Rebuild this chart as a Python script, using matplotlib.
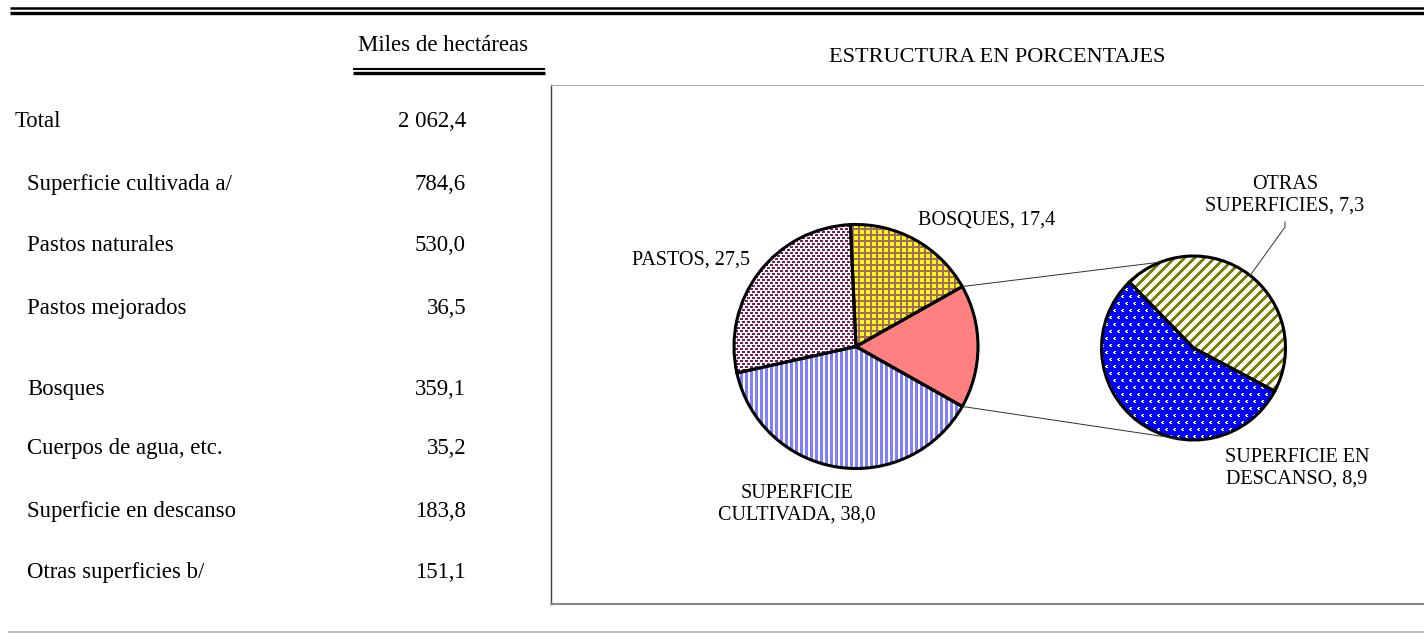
import numpy as np
import matplotlib
matplotlib.use("Agg")
import matplotlib.pyplot as plt
from matplotlib.colors import to_rgba

# ---------------- data ----------------
row_labels = ["Total", "Superficie cultivada a/", "Pastos naturales", "Pastos mejorados",
              "Bosques", "Cuerpos de agua, etc.", "Superficie en descanso", "Otras superficies b/"]
row_values = [2062.4, 784.6, 530.0, 36.5, 359.1, 35.2, 183.8, 151.1]

main_labels = ["SUPERFICIE\nCULTIVADA, 38,0", "", "BOSQUES, 17,4", "PASTOS, 27,5"]
sub_labels = ["OTRAS\nSUPERFICIES, 7,3", "SUPERFICIE EN\nDESCANSO, 8,9"]
sub_values = [7.3, 8.9]                      # otras superficies, superficie en descanso
main_values = [38.0, sum(sub_values), 17.4, 27.5]   # cultivada, (descanso+otras), bosques, pastos

W, H = 1424, 633
FONT = "Liberation Serif"


def Y(y):
    return H - y


def fmt(v):
    return f"{v:,.1f}".replace(",", " ").replace(".", ",")


fig = plt.figure(figsize=(W / 100, H / 100), dpi=100)
ax = fig.add_axes([0, 0, 1, 1])
ax.set_axis_off()

# ---------------- rules ----------------
ax.plot([10, W], [Y(8), Y(8)], color="black", lw=1.8, solid_capstyle="butt")
ax.plot([10, W], [Y(13.4), Y(13.4)], color="black", lw=2.4, solid_capstyle="butt")
ax.plot([353, 545], [Y(68.7), Y(68.7)], color="black", lw=1.5, solid_capstyle="butt")
ax.plot([353, 545], [Y(73), Y(73)], color="black", lw=2.4, solid_capstyle="butt")
ax.plot([8, W], [Y(632), Y(632)], color="#bdbdbd", lw=1.4, solid_capstyle="butt")

# frame of the chart area
ax.plot([551, 551], [Y(85), Y(604)], color="#404040", lw=1.0)
ax.plot([551, W], [Y(85), Y(85)], color="#b0b0b0", lw=0.8)
ax.plot([551, W], [Y(604), Y(604)], color="#8a8a8a", lw=1.5)

# ---------------- table text ----------------
ax.text(443, Y(51), "Miles de hectáreas", fontsize=16.4, family=FONT, ha="center", va="baseline")
baselines = [127, 190, 251, 314, 395, 454, 517, 578]
for i, (lab, val, yb) in enumerate(zip(row_labels, row_values, baselines)):
    ax.text(15 if i == 0 else 27, Y(yb), lab, fontsize=16.4, family=FONT, ha="left", va="baseline")
    ax.text(466, Y(yb), fmt(val), fontsize=16.4, family=FONT, ha="right", va="baseline")

ax.text(997, Y(62), "ESTRUCTURA EN PORCENTAJES", fontsize=16, family=FONT, ha="center", va="baseline")


# ---------------- fill textures (pixel patterns) ----------------
def texture(kind, rows, cols):
    r, c = np.meshgrid(rows, cols, indexing="ij")
    if kind == "vstripes":
        return (c % 5) < 3
    if kind == "grid":
        return ((r % 6) < 2) | ((c % 6) < 2)
    if kind == "dots":
        shift = 3 * ((r // 3) % 2)
        return ((r % 3) < 2) & (((c + shift) % 5) < 3)
    if kind == "diag":
        return ((c + r) % 10) < 4
    if kind == "chevron":
        shift = 4 * ((r // 7) % 2)
        cc = (c + shift) % 8
        rr = r % 7
        return (((rr == 1) | (rr == 3)) & ((cc == 2) | (cc == 3))) | ((rr == 2) & ((cc == 1) | (cc == 2)))
    return np.zeros_like(r, dtype=bool)


def styled_pie(vals, center_px, radius, start, bases, kinds, inks):
    center = (center_px[0], Y(center_px[1]))
    wedges, _ = ax.pie(vals, colors=bases, startangle=start, counterclock=True,
                       center=center, radius=radius, frame=True,
                       wedgeprops=dict(linewidth=0))
    x0 = int(np.floor(center_px[0] - radius)) - 2
    y0 = int(np.floor(center_px[1] - radius)) - 2
    n = int(np.ceil(2 * radius)) + 5
    rows = np.arange(y0, y0 + n)
    cols = np.arange(x0, x0 + n)
    for w, base, kind, ink in zip(wedges, bases, kinds, inks):
        if kind is None:
            continue
        mask = texture(kind, rows, cols)
        img = np.empty((n, n, 4))
        img[:] = to_rgba(base)
        img[mask] = to_rgba(ink)
        im = ax.imshow(img, extent=(x0, x0 + n, Y(y0 + n), Y(y0)), origin="upper",
                       interpolation="nearest", zorder=2)
        im.set_clip_path(w)
    outl, _ = ax.pie(vals, startangle=start, counterclock=True, center=center,
                     radius=radius, frame=True,
                     wedgeprops=dict(fill=False, edgecolor="black", linewidth=2.2, zorder=3))
    return wedges


main_cpx = (856, 346.5)
main_c = (main_cpx[0], Y(main_cpx[1]))
main_r = 122
red_span = main_values[1] / sum(main_values) * 360
cult_span = main_values[0] / sum(main_values) * 360
main_start = -red_span / 2 - cult_span

mw = styled_pie(main_values, main_cpx, main_r, main_start,
                ["white", "#ff8080", "#ffff00", "white"],
                ["vstripes", None, "grid", "dots"],
                ["#8080ff", None, "#a46a6a", "#7a1c56"])

sub_cpx = (1193.5, 348)
sub_c = (sub_cpx[0], Y(sub_cpx[1]))
sub_r = 92
sw = styled_pie(sub_values, sub_cpx, sub_r, -28,
                ["white", "#0000ff"],
                ["diag", "chevron"],
                ["#808000", "#ffffff"])

# connector lines from the red wedge to the small pie
red = mw[1]
a1, a2 = np.deg2rad(red.theta2), np.deg2rad(red.theta1)
p1 = (main_c[0] + main_r * np.cos(a1), main_c[1] + main_r * np.sin(a1))
p2 = (main_c[0] + main_r * np.cos(a2), main_c[1] + main_r * np.sin(a2))
b1, b2 = np.deg2rad(111), np.deg2rad(-98)
q1 = (sub_c[0] + sub_r * np.cos(b1), sub_c[1] + sub_r * np.sin(b1))
q2 = (sub_c[0] + sub_r * np.cos(b2), sub_c[1] + sub_r * np.sin(b2))
ax.plot([p1[0], q1[0]], [p1[1], q1[1]], color="#303030", lw=0.7, zorder=4)
ax.plot([p2[0], q2[0]], [p2[1], q2[1]], color="#303030", lw=0.7, zorder=4)

# leader for OTRAS
b3 = np.deg2rad(52)
q3 = (sub_c[0] + sub_r * np.cos(b3), sub_c[1] + sub_r * np.sin(b3))
ax.plot([q3[0], 1285, 1285], [q3[1], Y(227), Y(222)], color="#303030", lw=0.7, zorder=4)

# pie labels
LS = 1.2
FS = 14.5
ax.text(918, Y(225), main_labels[2], fontsize=FS, family=FONT, ha="left", va="baseline")
ax.text(632, Y(265), main_labels[3], fontsize=FS, family=FONT, ha="left", va="baseline")
ax.text(797, Y(504.5), main_labels[0], fontsize=FS, family=FONT, ha="center", va="center",
        multialignment="center", linespacing=LS)
ax.text(1285, Y(195), sub_labels[0], fontsize=FS, family=FONT, ha="center", va="center",
        multialignment="center", linespacing=LS)
ax.text(1297, Y(468), sub_labels[1], fontsize=FS, family=FONT, ha="center", va="center",
        multialignment="center", linespacing=LS)

ax.set_aspect("auto")
ax.set_xlim(0, W)
ax.set_ylim(0, H)
ax.set_position([0, 0, 1, 1])

fig.savefig("out.png", dpi=100, facecolor="white")
